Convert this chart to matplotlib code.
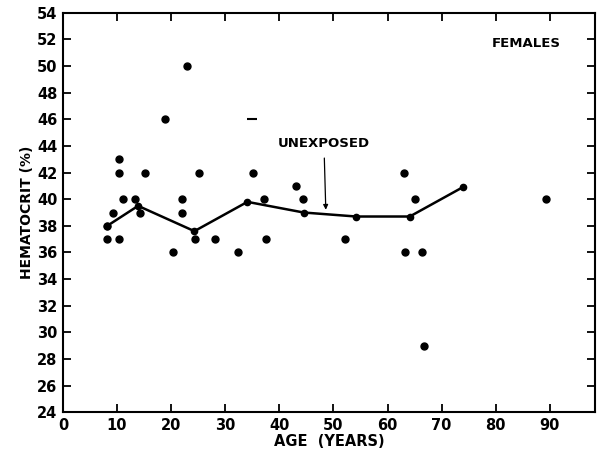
import matplotlib
matplotlib.use("Agg")
import matplotlib.pyplot as plt

# individual females (age, hematocrit %)
ages = [8.2, 9.3, 10.4, 10.4, 11.2, 13.3, 14.3, 15.2, 18.8, 22.9, 22.1, 22.1,
        25.1, 35.1, 37.1, 43.1, 44.3, 8.2, 10.4, 20.3, 24.4, 28.1, 32.3, 37.5,
        52.2, 63.2, 66.4, 66.7, 63.0, 65.1, 89.2]
hct = [38, 39, 43, 42, 40, 40, 39, 42, 46, 50, 40, 39,
       42, 42, 40, 41, 40, 37, 37, 36, 37, 37, 36, 37,
       37, 36, 36, 29, 42, 40, 40]

# mean line for unexposed group
mean_age = [8.2, 13.9, 24.3, 34.1, 44.5, 54.2, 64.1, 73.9]
mean_hct = [38.0, 39.5, 37.6, 39.8, 39.0, 38.7, 38.7, 40.9]

plt.rcParams['font.weight'] = 'bold'

fig = plt.figure(figsize=(5.99, 4.59), dpi=100)
ax = fig.add_axes([0.105, 0.102, 0.888, 0.870])

ax.plot(ages, hct, 'o', color='black', markersize=5)
ax.plot(mean_age, mean_hct, '-o', color='black', linewidth=1.8, markersize=4.5)
ax.plot([35], [46], marker='_', color='black', markersize=7, markeredgewidth=1.5)

ax.text(85.7, 51.7, 'FEMALES', ha='center', va='center', fontsize=9.5, fontweight='bold')
ax.text(48.3, 44.2, 'UNEXPOSED', ha='center', va='center', fontsize=9.5, fontweight='bold')
ax.annotate('', xy=(48.6, 39.0), xytext=(48.3, 43.3),
            arrowprops=dict(arrowstyle='-|>', color='black', lw=0.9, mutation_scale=7))

ax.set_xlim(0, 98.3)
ax.set_ylim(24, 54)
ax.set_xticks(range(0, 100, 10))
ax.set_yticks(range(24, 55, 2))
ax.tick_params(direction='in', length=6, width=1.3, top=True, right=True,
               labelsize=10.5, pad=4)
for sp in ax.spines.values():
    sp.set_linewidth(1.5)

ax.set_xlabel('AGE  (YEARS)', fontsize=10.5, labelpad=1, fontweight='bold')
ax.set_ylabel('HEMATOCRIT (%)', fontsize=10, labelpad=2, fontweight='bold')

fig.savefig('out.png', dpi=100)
